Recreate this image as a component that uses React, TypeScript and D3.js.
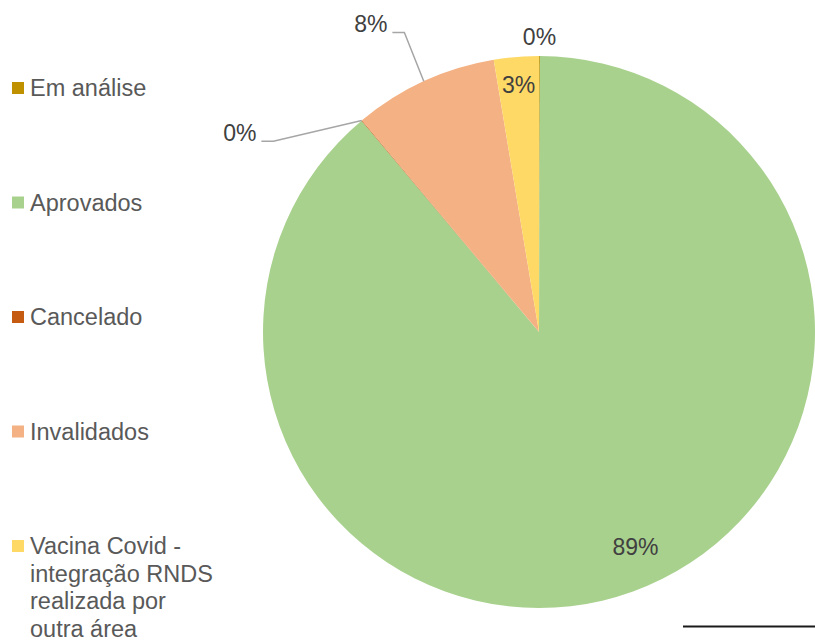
import { useMemo } from 'react';
import * as d3 from 'd3';

// Status categories, in legend / pie order
const categories = ['Em análise', 'Aprovados', 'Cancelado', 'Invalidados', 'Vacina Covid - integração RNDS realizada por outra área'];
// Wrapped legend lines for each category
const legendLines = [['Em análise'], ['Aprovados'], ['Cancelado'], ['Invalidados'], ['Vacina Covid -', 'integração RNDS', 'realizada por', 'outra área']];
// Counts
const values = [5, 8870, 3, 845, 262];
const colors = ['#BF9000', '#A9D18E', '#C55A11', '#F4B183', '#FFD966'];

// label placement: 'in' = centred at polar (deg offset from mid angle, radius factor), 'leader' = elbow at polar (deg, factor)
type LabelPos = { kind: 'in'; off: number; r: number } | { kind: 'leader'; deg: number; r: number };
const labelLayout: LabelPos[] = [
  { kind: 'in', off: 0, r: 1.07 },
  { kind: 'in', off: -4.2, r: 0.855 },
  { kind: 'leader', deg: 305.7, r: 1.185 },
  { kind: 'leader', deg: 335.8, r: 1.19 },
  { kind: 'in', off: 0, r: 0.9 },
];

export default function App() {
  const width = 815;
  const height = 640;
  const cx = 539;
  const cy = 332;
  const radius = 276;

  const total = d3.sum(values);
  const arcs = useMemo(() => d3.pie<number>().sort(null).value(d => d)(values), []);
  const arc = d3.arc<d3.PieArcDatum<number>>().innerRadius(0).outerRadius(radius);

  const polar = (angle: number, r: number): [number, number] => [Math.sin(angle) * r, -Math.cos(angle) * r];
  const fmt = (v: number) => Math.round((v / total) * 100) + '%';
  const rad = (deg: number) => (deg * Math.PI) / 180;

  const legendY = d3.scalePoint<number>().domain(d3.range(categories.length)).range([88, 546]);

  return (
    <svg width={width} height={height} style={{ position: 'absolute', left: 0, top: 0, background: '#fff' }}
      fontFamily="'Liberation Sans', Arial, sans-serif">
      <g transform={`translate(${cx},${cy})`}>
        {arcs.map((a, i) => (
          <path key={i} d={arc(a) ?? ''} fill={colors[i]} />
        ))}
        {arcs.map((a, i) => {
          const mid = (a.startAngle + a.endAngle) / 2;
          const lay = labelLayout[i];
          const txt = fmt(a.value);
          if (lay.kind === 'in') {
            const [x, y] = polar(mid + rad(lay.off), radius * lay.r);
            return <text key={i} x={x} y={y} dy="0.35em" textAnchor="middle" fontSize={23} fill="#404040">{txt}</text>;
          }
          const [sx, sy] = polar(mid, radius);
          const [ex, ey] = polar(rad(lay.deg), radius * lay.r);
          const hx = ex - 12;
          return (
            <g key={i}>
              <polyline points={`${sx},${sy} ${ex},${ey} ${hx},${ey}`} fill="none" stroke="#A6A6A6" strokeWidth={1.5} />
              <text x={hx - 5} y={ey} textAnchor="end" fontSize={23} fill="#404040">{txt}</text>
            </g>
          );
        })}
      </g>
      <g>
        {categories.map((c, i) => (
          <g key={c} transform={`translate(12,${legendY(i)})`}>
            <rect x={0} y={-6} width={12} height={12} fill={colors[i]} />
            <text x={18} y={0} fontSize={23.5} fill="#595959">
              {legendLines[i].map((l, j) => (
                <tspan key={j} x={18} dy={j === 0 ? '0.35em' : 27.5}>{l}</tspan>
              ))}
            </text>
          </g>
        ))}
      </g>
      <line x1={683} x2={815} y1={626.5} y2={626.5} stroke="#1a1a1a" strokeWidth={2} />
    </svg>
  );
}
